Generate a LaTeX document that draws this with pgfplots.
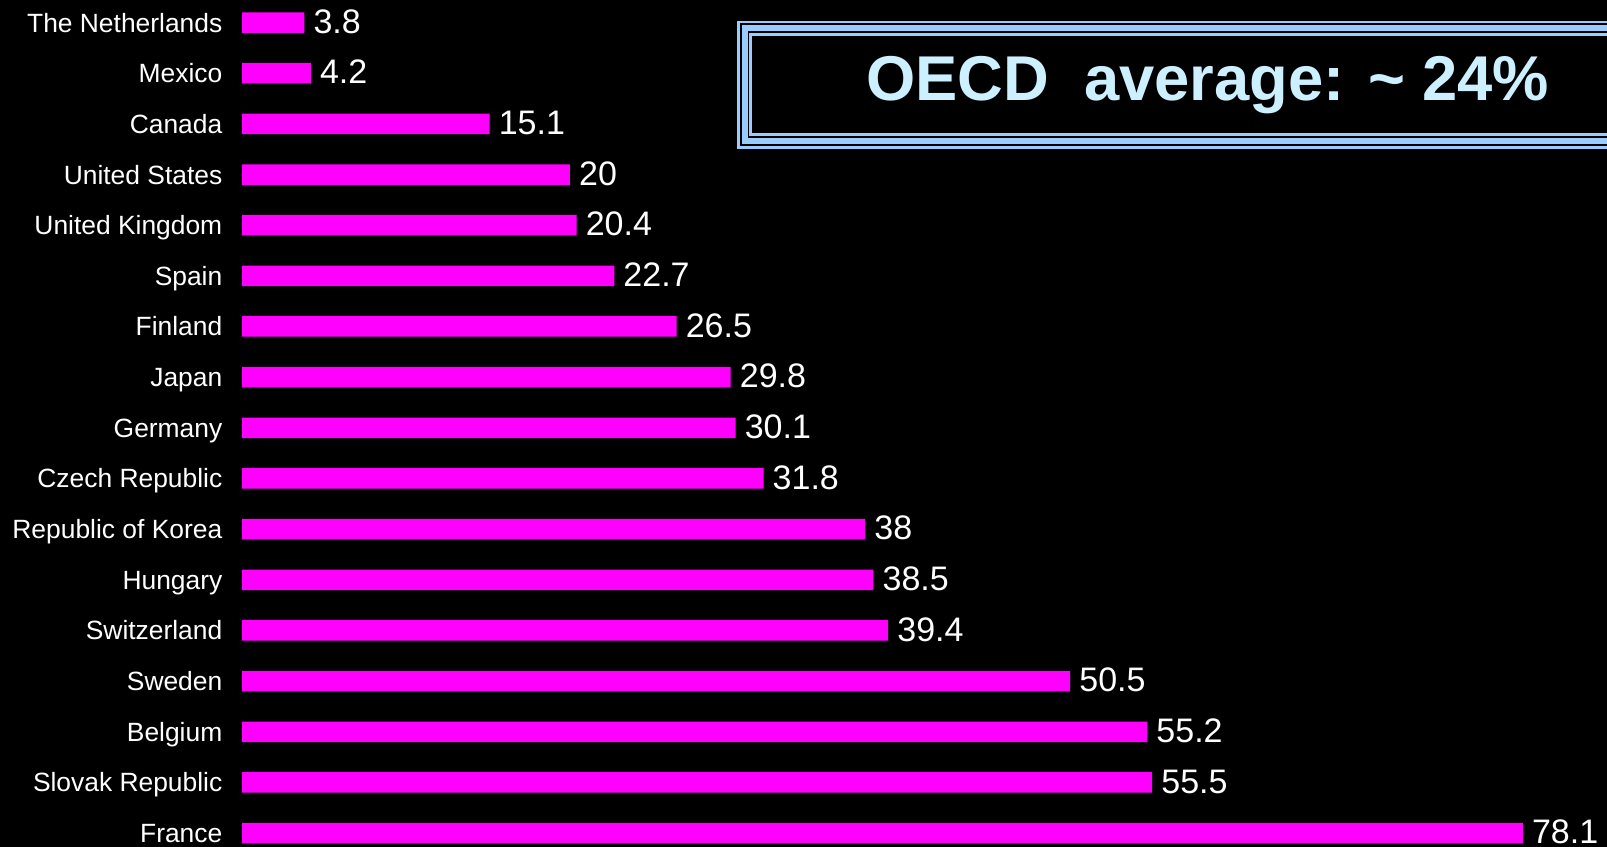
\documentclass[border=0pt]{standalone}
\usepackage{pgfplots}
\pgfplotsset{compat=1.18}
\usepackage{pgfplotstable}
\usepackage{fontspec}
\setmainfont{Liberation Sans}
\definecolor{barmag}{HTML}{FF00FF}
\definecolor{boxblue}{HTML}{99CCFF}
\definecolor{titleblue}{HTML}{CCF0FF}
\pgfplotstableread{
y x label
0 3.8 3.8
1 4.2 4.2
2 15.1 15.1
3 20 20
4 20.4 20.4
5 22.7 22.7
6 26.5 26.5
7 29.8 29.8
8 30.1 30.1
9 31.8 31.8
10 38 38
11 38.5 38.5
12 39.4 39.4
13 50.5 50.5
14 55.2 55.2
15 55.5 55.5
16 78.1 78.1
}\data
\begin{document}
\begin{tikzpicture}
\useasboundingbox (0,0) rectangle (1607bp,847bp);
\clip (0,0) rectangle (1607bp,847bp);
\fill[black] (0,0) rectangle (1607bp,847bp);
\begin{axis}[
  at={(242bp,849.8bp)}, anchor=north west,
  scale only axis,
  width=1361.2bp, height=861.2bp,
  xmin=0, xmax=83,
  ymin=-0.5, ymax=16.5,
  y dir=reverse,
  xbar, bar width=20.5bp,
  axis line style={draw=none},
  xtick=\empty,
  ytick={0,...,16},
  yticklabels={The Netherlands,Mexico,Canada,United States,United Kingdom,Spain,Finland,Japan,Germany,Czech Republic,Republic of Korea,Hungary,Switzerland,Sweden,Belgium,Slovak Republic,France},
  major tick length=0pt,
  ytick style={draw=none},
  yticklabel style={anchor=east, inner sep=0pt, xshift=-19.5bp, text=white,
    font=\fontsize{26.4bp}{30bp}\selectfont, text height=19bp, text depth=0pt},
  clip=false,
  point meta=explicit symbolic,
  nodes near coords={\pgfplotspointmeta},
  nodes near coords style={anchor=west, inner sep=0pt, xshift=9bp, yshift=1.5bp, text=white,
    font=\fontsize{34bp}{38bp}\selectfont, text height=24.5bp, text depth=0pt},
]
\addplot[fill=barmag, draw=none] table[x=x, y=y, meta=label] {\data};
\end{axis}
\fill[black] (738.5bp,699.5bp) rectangle (1640bp,825bp);
\draw[boxblue, line width=2.5bp] (738.5bp,699.5bp) rectangle (1640bp,825bp);
\draw[boxblue, line width=6bp] (745bp,706bp) rectangle (1640bp,818.5bp);
\draw[boxblue, line width=2.5bp] (750.7bp,712.5bp) rectangle (1640bp,812.5bp);
\node[anchor=base west, inner sep=0pt, text=titleblue, font=\fontsize{63.3bp}{70bp}\selectfont\bfseries] at (866bp,746.5bp) {OECD\ \ average: \textasciitilde\ 24\%};
\end{tikzpicture}
\end{document}
